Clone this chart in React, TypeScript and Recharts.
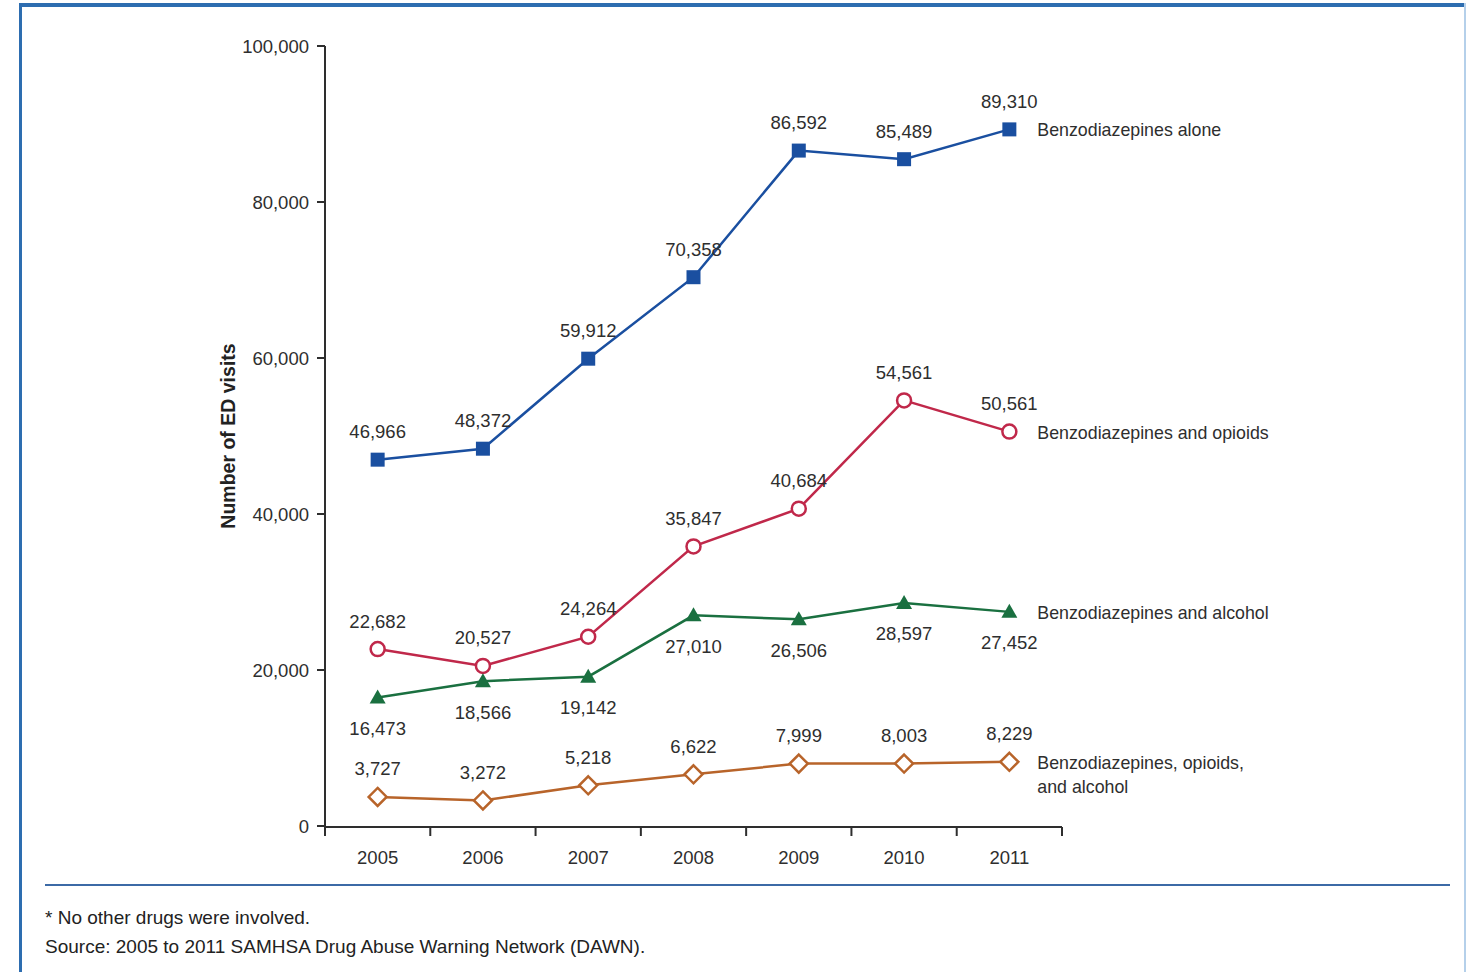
import { LineChart, Line, XAxis, YAxis, LabelList } from 'recharts';

const years = [2005, 2006, 2007, 2008, 2009, 2010, 2011];
const bandEdges = [2004.5, 2005.5, 2006.5, 2007.5, 2008.5, 2009.5, 2010.5, 2011.5];
const yTicks = [0, 20000, 40000, 60000, 80000, 100000];

const alone = [46966, 48372, 59912, 70358, 86592, 85489, 89310];
const withOpioids = [22682, 20527, 24264, 35847, 40684, 54561, 50561];
const withAlcohol = [16473, 18566, 19142, 27010, 26506, 28597, 27452];
const withBoth = [3727, 3272, 5218, 6622, 7999, 8003, 8229];

const aloneName = ['Benzodiazepines alone'];
const opioidsName = ['Benzodiazepines and opioids'];
const alcoholName = ['Benzodiazepines and alcohol'];
const bothName = ['Benzodiazepines, opioids,', 'and alcohol'];

const data = years.map((year, i) => ({
  year,
  alone: alone[i],
  opioids: withOpioids[i],
  alcohol: withAlcohol[i],
  both: withBoth[i],
}));

const FONT = "'Liberation Sans', Arial, sans-serif";
const TEXT = '#2e2e2e';
const NUM_SIZE = 18.5;
const NAME_SIZE = 17.8;

const fmt = (v: number) => v.toLocaleString('en-US');

function makeDot(shape: string, color: string) {
  return (props: any) => {
    const { cx, cy, index } = props;
    if (cx == null || cy == null) return <g key={index} />;
    if (shape === 'square') {
      return <rect key={index} x={cx - 7} y={cy - 7} width={14} height={14} fill={color} />;
    }
    if (shape === 'circle') {
      return <circle key={index} cx={cx} cy={cy} r={7} fill="#fff" stroke={color} strokeWidth={2.5} />;
    }
    if (shape === 'triangle') {
      return <path key={index} d={`M${cx},${cy - 8} L${cx + 8},${cy + 6} L${cx - 8},${cy + 6} Z`} fill={color} />;
    }
    return (
      <path
        key={index}
        d={`M${cx},${cy - 9} L${cx + 9},${cy} L${cx},${cy + 9} L${cx - 9},${cy} Z`}
        fill="#fff"
        stroke={color}
        strokeWidth={2.5}
      />
    );
  };
}

function makeLabel(side: 'top' | 'bottom', name: string[]) {
  return (props: any) => {
    const { x, y, value, index } = props;
    const ly = side === 'top' ? y - 28 : y + 31;
    return (
      <g>
        <text x={x} y={ly} textAnchor="middle" dominantBaseline="central" fontSize={NUM_SIZE} fontFamily={FONT} fill={TEXT}>
          {fmt(value)}
        </text>
        {index === years.length - 1 &&
          name.map((line, j) => (
            <text key={j} x={x + 28} y={y + 1 + j * 24} dominantBaseline="central" fontSize={NAME_SIZE} fontFamily={FONT} fill={TEXT}>
              {line}
            </text>
          ))}
      </g>
    );
  };
}

const series = [
  { key: 'alone', color: '#1a4fa0', shape: 'square', side: 'top' as const, name: aloneName },
  { key: 'opioids', color: '#c0284a', shape: 'circle', side: 'top' as const, name: opioidsName },
  { key: 'alcohol', color: '#1a7040', shape: 'triangle', side: 'bottom' as const, name: alcoholName },
  { key: 'both', color: '#b8642a', shape: 'diamond', side: 'top' as const, name: bothName },
];

export default function App() {
  return (
    <div style={{ position: 'absolute', left: 0, top: 0, width: 1474, height: 972, background: '#fff', overflow: 'hidden' }}>
      <div style={{ position: 'absolute', left: 19, top: 3, width: 1447, height: 4, background: '#2d6db0' }} />
      <div style={{ position: 'absolute', left: 19, top: 3, width: 3, height: 969, background: '#2d6db0' }} />
      <div style={{ position: 'absolute', left: 1464, top: 3, width: 2, height: 969, background: '#b5d0ea' }} />
      <div style={{ position: 'absolute', left: 0, top: 0 }}>
        <LineChart width={1474} height={900} data={data} margin={{ top: 46, right: 412, left: 0, bottom: 72 }}>
          <XAxis
            xAxisId="marks"
            dataKey="year"
            type="number"
            domain={[2004.5, 2011.5]}
            ticks={bandEdges}
            interval={0}
            height={1}
            tickFormatter={() => ''}
            tickSize={9}
            axisLine={{ stroke: TEXT, strokeWidth: 2 }}
            tickLine={{ stroke: TEXT, strokeWidth: 2 }}
          />
          <XAxis
            xAxisId="labels"
            dataKey="year"
            type="number"
            domain={[2004.5, 2011.5]}
            ticks={years}
            interval={0}
            height={1}
            axisLine={false}
            tickLine={false}
            tickSize={8}
            tickMargin={17}
            tick={{ fontSize: NUM_SIZE, fontFamily: FONT, fill: TEXT }}
          />
          <YAxis
            type="number"
            width={325}
            domain={[0, 100000]}
            ticks={yTicks}
            interval={0}
            tickFormatter={fmt}
            tickSize={8}
            tickMargin={8}
            axisLine={{ stroke: TEXT, strokeWidth: 2 }}
            tickLine={{ stroke: TEXT, strokeWidth: 2 }}
            tick={{ fontSize: NUM_SIZE, fontFamily: FONT, fill: TEXT }}
            label={{
              value: 'Number of ED visits',
              angle: -90,
              position: 'center',
              dx: 66,
              style: { fontSize: 19.5, fontWeight: 'bold', fontFamily: FONT, fill: '#222', textAnchor: 'middle' },
            }}
          />
          {series.map((s) => (
            <Line
              key={s.key}
              xAxisId="marks"
              dataKey={s.key}
              stroke={s.color}
              strokeWidth={2.5}
              dot={makeDot(s.shape, s.color)}
              activeDot={false}
              isAnimationActive={false}
            >
              <LabelList dataKey={s.key} content={makeLabel(s.side, s.name)} />
            </Line>
          ))}
        </LineChart>
      </div>
      <div style={{ position: 'absolute', left: 45, top: 884, width: 1405, height: 2, background: '#3c6aa6' }} />
      <div style={{ position: 'absolute', left: 45, top: 903, fontFamily: FONT, fontSize: 19, color: '#222', lineHeight: '29px' }}>
        <div>* No other drugs were involved.</div>
        <div>Source: 2005 to 2011 SAMHSA Drug Abuse Warning Network (DAWN).</div>
      </div>
    </div>
  );
}
